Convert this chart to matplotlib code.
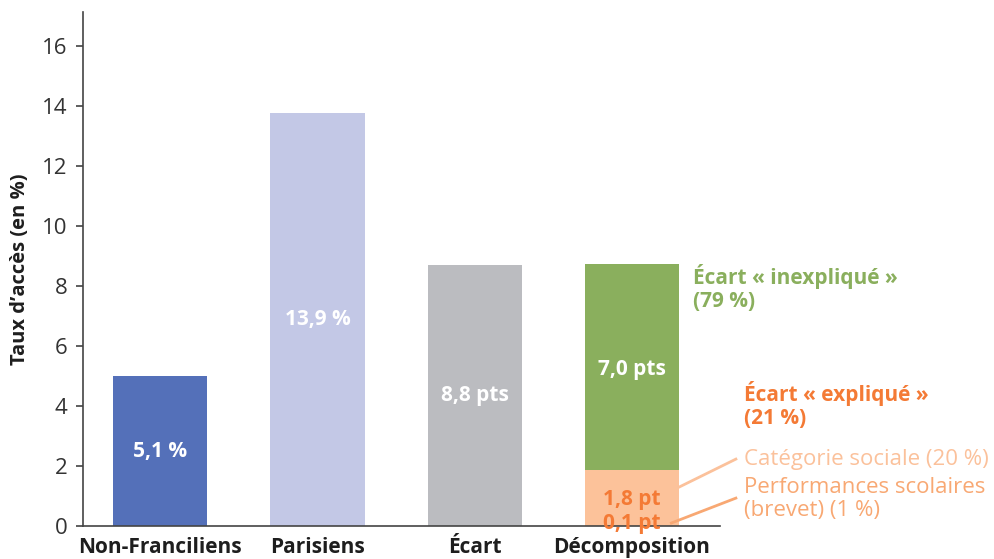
import numpy as np
import matplotlib.pyplot as plt

plt.rcParams['font.family'] = ['Open Sans', 'DejaVu Sans']

# données
categories = ['Non-Franciliens', 'Parisiens', 'Écart', 'Décomposition']
simple_vals = [5.0, 13.75, 8.7]
simple_labels = ['5,1 %', '13,9 %', '8,8 pts']
simple_colors = ['#5470b9', '#c3c8e6', '#bbbcc0']

# décomposition de l'écart (du bas vers le haut)
decomp_vals = [0.07, 1.8, 6.86]
decomp_labels = ['0,1 pt', '1,8 pt', '7,0 pts']
decomp_colors = ['#fcc29a', '#fcc29a', '#8aaf5d']

yticks = [0, 2, 4, 6, 8, 10, 12, 14, 16]

fig = plt.figure(figsize=(9.94, 5.59), dpi=100)
ax = fig.add_axes([0.0835, 0.059, 0.641, 0.9195])

x = np.arange(len(categories))
w = 0.6

bars = ax.bar(x[:3], simple_vals, width=w, color=simple_colors)
for b, lab in zip(bars, simple_labels):
    ax.text(b.get_x() + w / 2, b.get_height() / 2, lab, ha='center', va='center',
            color='white', fontsize=15, fontweight='bold')

bottom = 0
for v, c in zip(decomp_vals, decomp_colors):
    ax.bar(x[3], v, width=w, bottom=bottom, color=c)
    bottom += v

orange = '#f47a35'
ax.text(x[3], decomp_vals[0] + decomp_vals[1] + decomp_vals[2] / 2 - 0.1, decomp_labels[2],
        ha='center', va='center', color='white', fontsize=15, fontweight='bold')
ax.text(x[3], 0.87, decomp_labels[1], ha='center', va='center', color=orange,
        fontsize=15, fontweight='bold')
ax.text(x[3], 0.07, decomp_labels[0], ha='center', va='center', color=orange,
        fontsize=15, fontweight='bold', clip_on=False)

# annotations à droite
green = '#8aaf5d'
ax.text(x[3] + 0.39, 7.92, 'Écart « inexpliqué »\n(79 %)', ha='left', va='center',
        color=green, fontsize=15, fontweight='bold', linespacing=1.12, clip_on=False)
ax.text(x[3] + 0.71, 4.03, 'Écart « expliqué »\n(21 %)', ha='left', va='center',
        color=orange, fontsize=15, fontweight='bold', linespacing=1.12, clip_on=False)

light = '#fbc19b'
mid = '#f8a873'
ax.text(x[3] + 0.71, 2.23, 'Catégorie sociale (20 %)', ha='left', va='center',
        color=light, fontsize=16, clip_on=False)
ax.text(x[3] + 0.71, 0.9, 'Performances scolaires\n(brevet) (1 %)', ha='left', va='center',
        color=mid, fontsize=16, linespacing=1.08, clip_on=False)
ax.plot([x[3] + w / 2, x[3] + 0.66], [1.3, 2.23], color=light, lw=2, clip_on=False)
ax.plot([x[3] + 0.25, x[3] + 0.66], [0.1, 0.93], color=mid, lw=2, clip_on=False)

ax.set_xlim(-0.49, 3.56)
ax.set_ylim(0, 17.13)
ax.set_yticks(yticks)
ax.set_xticks(x)
ax.set_xticklabels(categories, fontsize=15, fontweight='bold', color='#1e1e1e')
ax.tick_params(axis='x', length=0, pad=8)
ax.tick_params(axis='y', labelsize=16, length=5, width=1.1, colors='#333333', pad=6)
ax.set_ylabel("Taux d’accès (en %)", fontsize=14.5, fontweight='bold', labelpad=9,
              color='#1e1e1e')

for s in ['top', 'right']:
    ax.spines[s].set_visible(False)
for s in ['left', 'bottom']:
    ax.spines[s].set_linewidth(1.2)
    ax.spines[s].set_color('#444444')

fig.savefig('out.png', dpi=100)
